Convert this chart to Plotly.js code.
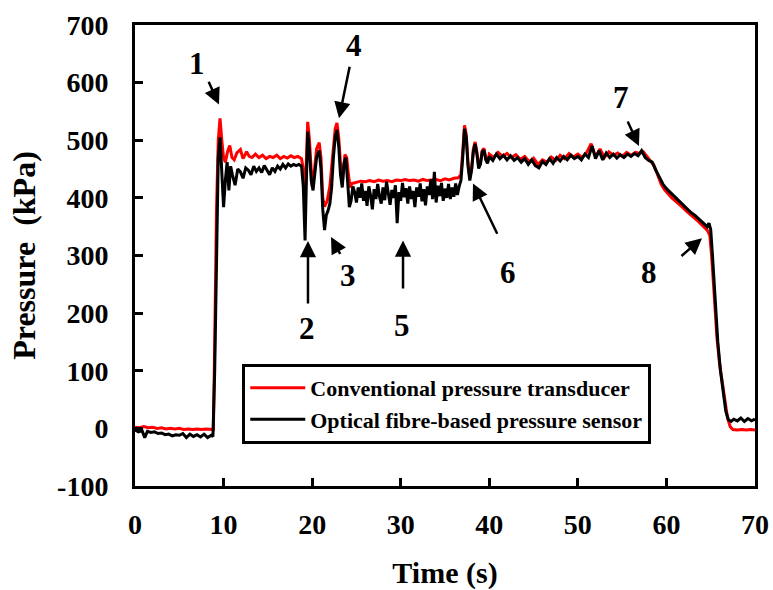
<!DOCTYPE html>
<html>
<head>
<meta charset="utf-8">
<script src="https://cdn.plot.ly/plotly-3.0.1.min.js"></script>
<style>html,body{margin:0;padding:0;background:#fff;}#chart{width:773px;height:590px;}</style>
</head>
<body>
<div id="chart"></div>
<script>
// Conventional pressure transducer (red)
const tRed = [0,0.5,1,1.5,2,2.5,3,3.5,4,4.5,5,5.5,6,6.5,7,7.5,8,8.5,8.85,
  9.0,9.2,9.4,9.6,9.8,10.0,10.2,10.45,10.7,10.95,11.2,11.5,11.9,12.2,12.6,12.9,13.2,13.6,14.0,14.4,14.8,15.2,15.6,16.0,16.4,16.8,17.2,17.6,18.0,18.4,18.8,
  19.0,19.2,19.35,19.5,19.7,20.0,20.2,20.5,20.8,21.0,21.2,21.4,21.7,22.0,22.3,22.6,22.8,23.0,23.2,23.4,23.7,23.9,24.1,24.3,24.5,
  25,25.5,26,26.5,27,27.5,28,28.5,29,29.5,30,30.5,31,31.5,32,32.5,33,33.5,34,34.5,35,35.5,36,36.5,36.8,
  37.0,37.2,37.4,37.6,37.8,38.0,38.2,38.4,38.6,38.8,39.0,39.2,39.4,39.6,39.8,
  40,40.5,41,41.5,42,42.5,43,43.5,44,44.5,45,45.5,46,46.5,47,47.5,48,48.5,49,49.5,50,50.5,51,51.5,52,52.5,53,53.5,54,54.5,55,55.5,56,56.5,57,57.4,
  57.8,58.2,58.6,59.0,59.4,59.8,60.2,60.6,61.0,61.4,61.8,62.2,62.6,63.0,63.4,63.8,64.2,64.6,64.9,65.1,65.4,65.7,66.0,66.3,66.6,66.9,67.2,67.5,68,68.5,69,69.5,70];
const pRed = [2,1,3,1,2,0,1,-1,0,-1,0,-2,-1,-2,-1,-2,-1,-2,-2,
  150,380,500,538,500,470,462,480,491,470,466,478,484,468,480,472,470,476,470,474,468,472,470,474,468,472,469,473,470,472,468,
  450,400,480,532,500,420,440,485,496,470,400,385,395,420,470,520,530,505,460,425,475,470,440,418,425,
  427,429,428,430,428,431,429,430,428,431,430,432,430,431,429,432,430,431,432,430,433,431,434,435,440,
  480,526,510,460,435,450,485,497,480,455,460,482,486,470,462,
  476,470,479,472,477,470,475,467,472,463,469,458,466,462,471,465,474,468,477,471,476,470,479,494,472,485,470,480,474,478,472,479,474,479,477,480,
  472,466,456,440,424,414,406,400,395,390,384,378,372,367,362,356,350,344,335,300,230,158,112,78,45,18,3,-2,-3,-2,-3,-2,-3];

// Optical fibre-based pressure sensor (black)
const tBlack = [0,0.4,0.8,1.1,1.4,1.8,2.2,2.6,3.0,3.4,3.8,4.2,4.6,5.0,5.4,5.8,6.2,6.6,7.0,7.4,7.8,8.2,8.6,8.8,
  9.0,9.2,9.4,9.6,9.8,10.0,10.2,10.4,10.6,10.8,11.0,11.3,11.6,11.9,12.2,12.5,12.8,13.1,13.4,13.7,14.0,14.3,14.6,14.9,15.2,15.5,15.8,16.1,16.4,16.7,17.0,17.3,17.6,17.9,18.2,18.5,18.8,
  19.0,19.2,19.35,19.5,19.7,19.9,20.1,20.3,20.5,20.8,21.0,21.2,21.4,21.6,21.8,22.0,22.2,22.4,22.6,22.8,23.0,23.2,23.4,23.6,23.8,24.0,24.2,24.4,24.6,
  24.8,25.0,25.2,25.4,25.6,25.8,26.0,26.2,26.4,26.6,26.8,27.0,27.2,27.4,27.6,27.8,28.0,28.2,28.4,28.6,28.8,29.0,29.2,29.4,29.6,29.8,
  30.0,30.2,30.4,30.6,30.8,31.0,31.2,31.4,31.6,31.8,32.0,32.2,32.4,32.6,32.8,33.0,33.2,33.4,33.6,33.8,34.0,34.2,34.4,34.6,34.8,
  35.0,35.2,35.4,35.6,35.8,36.0,36.2,36.4,36.6,36.8,
  37.0,37.2,37.4,37.6,37.8,38.0,38.2,38.4,38.6,38.8,39.0,39.2,39.4,39.6,39.8,
  40.0,40.4,40.8,41.2,41.6,42.0,42.4,42.8,43.2,43.6,44.0,44.4,44.8,45.2,45.6,46.0,46.4,46.8,47.2,47.6,48.0,48.4,48.8,49.2,49.6,
  50.0,50.4,50.8,51.2,51.6,52.0,52.4,52.8,53.2,53.6,54.0,54.4,54.8,55.2,55.6,56.0,56.4,56.8,57.2,
  57.6,58.0,58.4,58.8,59.2,59.6,60.0,60.4,60.8,61.2,61.6,62.0,62.4,62.8,63.2,63.6,64.0,64.3,64.6,64.8,65.0,65.2,65.5,65.8,66.1,66.4,66.7,67.0,67.3,67.6,68.0,68.4,68.8,69.2,69.6,70.0];
const pBlack = [-3,-6,-4,-16,-5,-7,-6,-9,-8,-11,-10,-13,-11,-12,-9,-16,-10,-14,-11,-15,-10,-16,-12,-14,
  100,330,470,505,440,384,430,462,413,455,440,422,450,445,434,452,448,440,455,446,452,444,456,448,440,452,446,455,450,458,452,459,455,458,456,458,455,
  420,326,430,515,480,430,413,440,470,482,450,380,344,370,378,390,418,470,505,518,490,440,418,460,470,430,384,395,420,
  410,392,418,400,425,395,412,386,420,404,380,415,398,424,402,390,418,396,428,405,388,414,400,422,356,410,
  395,426,401,417,390,420,398,412,384,418,402,425,394,415,387,420,405,432,398,445,392,421,403,426,395,
  416,400,424,398,418,402,425,405,420,430,
  470,520,505,455,430,448,480,494,476,451,458,480,483,466,460,
  472,465,476,468,474,466,473,465,470,462,468,458,466,456,452,463,458,468,460,470,464,472,466,474,468,
  472,466,476,470,490,468,482,466,478,470,476,469,475,470,476,472,477,473,482,
  470,465,462,448,436,424,416,410,403,398,392,386,380,374,370,364,358,354,350,356,345,300,220,150,100,60,30,15,12,16,13,18,12,17,13,16];

// Event labels and arrows (label position, arrow tail, arrow head) in data units
const labelText = ['1','2','3','4','5','6','7','8'];
const labelT = [7.0, 19.4, 24.0, 24.7, 30.1, 42.1, 54.9, 58.0];
const labelP = [634, 174, 266, 665, 179, 271, 575, 271];
const tailT = [8.24, 19.53, 23.26, 24.27, 30.26, 40.98, 55.55, 61.53];
const tailP = [604, 214, 300, 630, 240, 335, 535, 297];
const headT = [9.48, 19.53, 22.13, 23.03, 30.26, 38.16, 56.9, 64.02];
const headP = [562, 325, 332, 538, 326, 425, 490, 330];

const xTicks = [0,10,20,30,40,50,60,70];
const yTicks = [-100,0,100,200,300,400,500,600,700];
const yTickLabels = ['-100','0','100','200','300','400','500','600','700'];

const FONT = 'Liberation Serif, Times New Roman, serif';

const traces = [
  {x: tRed, y: pRed, type: 'scatter', mode: 'lines', name: 'Conventional pressure transducer',
   line: {color: '#ff0000', width: 3}},
  {x: tBlack, y: pBlack, type: 'scatter', mode: 'lines', name: 'Optical fibre-based pressure sensor',
   line: {color: '#000000', width: 3}}
];

const annotations = [];
for (let i = 0; i < labelText.length; i++) {
  annotations.push({x: labelT[i], y: labelP[i], xref: 'x', yref: 'y', text: labelText[i], showarrow: false,
    font: {family: FONT, size: 31, color: '#000', weight: 'bold'}});
  annotations.push({x: headT[i], y: headP[i], xref: 'x', yref: 'y', ax: tailT[i], ay: tailP[i],
    axref: 'x', ayref: 'y', text: '', showarrow: true, arrowhead: 2, arrowsize: 1.3, arrowwidth: 2.5,
    arrowcolor: '#000', standoff: 0, startstandoff: 0});
}

const layout = {
  width: 773, height: 590,
  margin: {l: 135, r: 18, t: 25, b: 104},
  paper_bgcolor: '#fff', plot_bgcolor: '#fff',
  font: {family: FONT, color: '#000'},
  showlegend: true,
  legend: {x: 0.173, y: 0.265, xanchor: 'left', yanchor: 'top', bgcolor: '#fff',
    bordercolor: '#000', borderwidth: 3, itemwidth: 55, traceorder: 'normal',
    font: {family: FONT, size: 22, color: '#000', weight: 'bold'}},
  xaxis: {range: [0, 70], tickvals: xTicks, ticks: 'inside', ticklen: 8, tickwidth: 3, tickcolor: '#000',
    showline: true, linewidth: 3, linecolor: '#000', mirror: true, showgrid: false, zeroline: false,
    ticklabelstandoff: 11,
    tickfont: {family: FONT, size: 28, color: '#000', weight: 'bold'},
    title: {text: 'Time (s)', standoff: 26, font: {family: FONT, size: 30, color: '#000', weight: 'bold'}}},
  yaxis: {range: [-100, 700], tickvals: yTicks, ticktext: yTickLabels, ticks: 'inside', ticklen: 8, tickwidth: 3, tickcolor: '#000',
    showline: true, linewidth: 3, linecolor: '#000', mirror: true, showgrid: false, zeroline: false,
    ticklabelstandoff: 18,
    tickfont: {family: FONT, size: 28, color: '#000', weight: 'bold'},
    title: {text: 'Pressure  (kPa)', standoff: 12, font: {family: FONT, size: 32, color: '#000', weight: 'bold'}}},
  annotations: annotations
};

Plotly.newPlot('chart', traces, layout, {displayModeBar: false, staticPlot: true});
</script>
</body>
</html>
